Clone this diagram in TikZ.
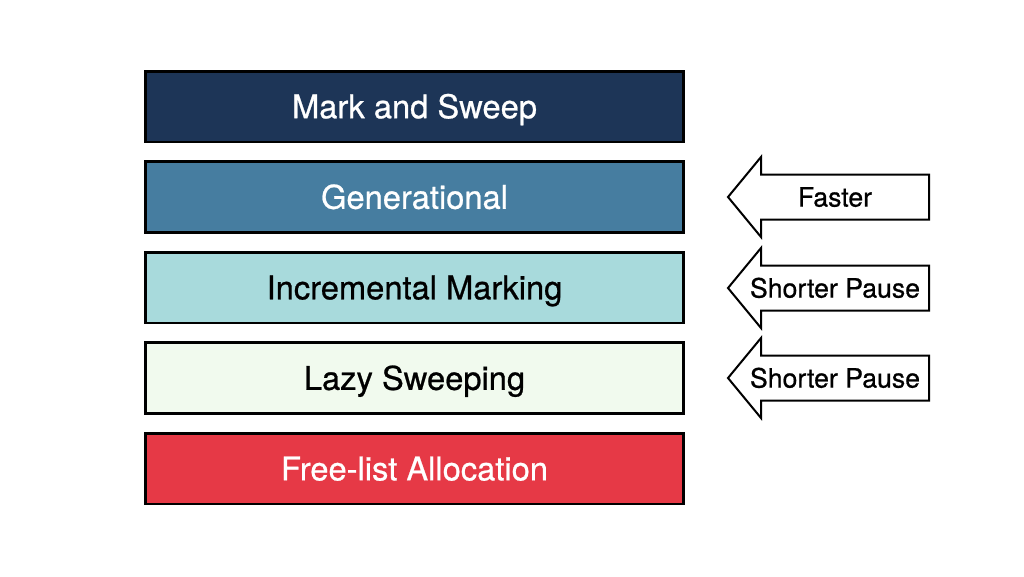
\documentclass[tikz,border=0pt]{standalone}
\usepackage{fontspec}
\setmainfont{TeX Gyre Heros}
\newfontface\labelface{TeX Gyre Heros}[FakeBold=0.7]
\usepackage{tikz}
\usetikzlibrary{positioning,calc}

\begin{document}
\begin{tikzpicture}[x=0.75pt,y=-0.75pt,node distance=12.9pt]
	%defines
	\definecolor{navy}{HTML}{1D3557}
	\definecolor{steel}{HTML}{467DA0}
	\definecolor{aqua}{HTML}{A8DADC}
	\definecolor{mint}{HTML}{F1FAEE}
	\definecolor{coral}{HTML}{E63946}
	\tikzstyle{layer} = [rectangle, minimum width=403.75pt, minimum height=53pt, inner sep=0pt, text height=17.6pt, text depth=0pt, text centered, draw=black, line width=2pt, font=\labelface\fontsize{24.5}{28}\selectfont]
	\tikzstyle{markSweep} = [layer, fill=navy, text=white]
	\tikzstyle{generational} = [layer, fill=steel, text=white]
	\tikzstyle{incremental} = [layer, fill=aqua, text=black]
	\tikzstyle{lazySweep} = [layer, fill=mint, text=black]
	\tikzstyle{freeList} = [layer, fill=coral, text=white]
	\tikzstyle{pointer} = [draw=black, fill=white, line width=1.5pt, line join=miter]
	\tikzstyle{pointerText} = [inner sep=0pt, text height=14.4pt, text depth=0pt, font=\labelface\fontsize{20}{24}\selectfont]
	\useasboundingbox (0,0) rectangle (1024,576);
	%chart
	\node (markSweep) [markSweep] at (414.5,106.5) {Mark and Sweep};
	\node (generational) [generational, below=of markSweep] {Generational};
	\node (incremental) [incremental, below=of generational] {Incremental Marking};
	\node (lazySweep) [lazySweep, below=of incremental] {Lazy Sweeping};
	\node (freeList) [freeList, below=of lazySweep] {Free-list Allocation};
	%arrows
	\foreach \y/\name/\txt in {197/faster/Faster, 288/pauseIncr/Shorter Pause, 378/pauseLazy/Shorter Pause} {
		\draw [pointer] (728,\y) -- (761,\y-40) -- (761,\y-22.5) -- (929,\y-22.5) -- (929,\y+22.5) -- (761,\y+22.5) -- (761,\y+40) -- cycle;
		\node (\name) [pointerText] at (835,\y) {\txt};
	}
\end{tikzpicture}
\end{document}
